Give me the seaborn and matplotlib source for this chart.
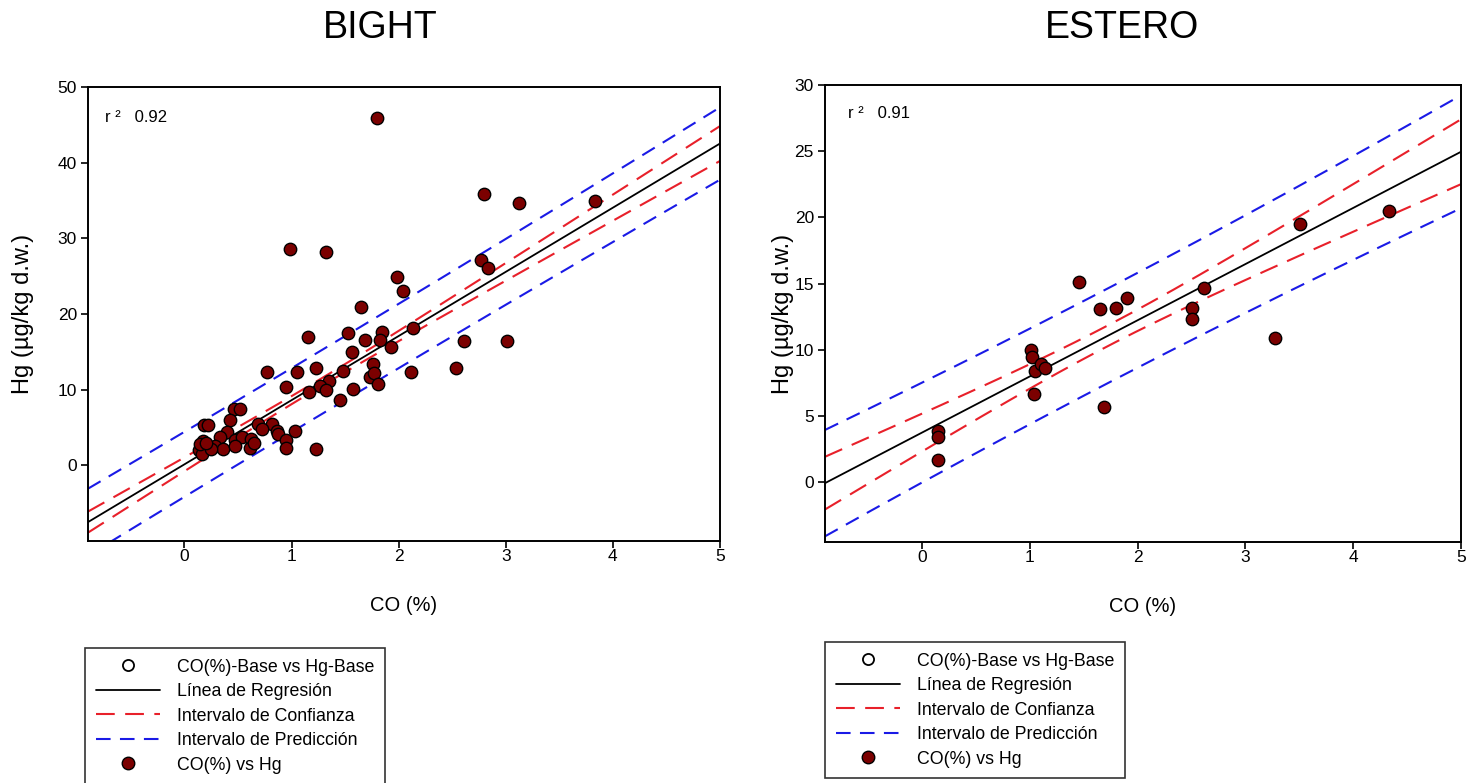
import math
import numpy as np
import pandas as pd
import matplotlib
matplotlib.use("Agg")
import matplotlib.pyplot as plt
from matplotlib.lines import Line2D
import seaborn as sns

# ---------------- data ----------------
bight_co = [1.80, 0.99, 1.32, 1.98, 2.04, 1.65, 1.15, 1.53, 1.84, 1.69, 1.83, 1.93,
            1.56, 1.76, 1.23, 0.77, 1.05, 1.48, 1.73, 1.77, 1.81, 1.35, 1.27, 1.32,
            1.57, 0.95, 1.16, 1.45, 0.46, 0.52, 0.43, 0.18, 0.22, 0.69, 0.82, 0.72,
            0.86, 1.03, 0.87, 0.40, 0.33, 0.47, 0.54, 0.62, 0.95, 0.17, 0.29, 0.36,
            0.47, 0.61, 0.65, 0.95, 1.23, 0.14, 0.16, 0.25, 0.15, 0.20,
            2.80, 3.12, 3.83, 2.77, 2.83, 2.13, 2.61, 3.01, 2.12, 2.54]
bight_hg = [45.9, 28.6, 28.2, 24.9, 23.1, 20.9, 16.9, 17.5, 17.6, 16.6, 16.5, 15.7,
            15.0, 13.4, 12.9, 12.3, 12.3, 12.5, 11.7, 12.2, 10.7, 11.1, 10.5, 10.0,
            10.1, 10.4, 9.7, 8.6, 7.5, 7.4, 6.0, 5.3, 5.3, 5.4, 5.5, 4.8,
            4.6, 4.6, 4.2, 4.4, 3.7, 3.4, 3.8, 3.5, 3.4, 3.2, 2.5, 2.1,
            2.6, 2.3, 2.9, 2.3, 2.2, 2.0, 1.5, 2.1, 2.8, 3.0,
            35.9, 34.7, 35.0, 27.1, 26.1, 18.2, 16.4, 16.4, 12.3, 12.8]

estero_co = [0.15, 0.15, 0.15, 1.01, 1.02, 1.05, 1.10, 1.14, 1.04, 1.46,
             1.65, 1.80, 1.90, 1.69, 2.50, 2.50, 2.62, 3.27, 3.51, 4.33]
estero_hg = [3.9, 3.4, 1.7, 10.0, 9.5, 8.4, 8.9, 8.6, 6.7, 15.1,
             13.1, 13.2, 13.9, 5.7, 13.2, 12.3, 14.7, 10.9, 19.5, 20.5]

# regression of the "Base" series: intercept, slope, residual SD
bight_fit = [0.13, 8.48, 2.10]
estero_fit = [3.76, 4.24, 1.66]

titles = ["BIGHT", "ESTERO"]
r2_labels = ["0.92", "0.91"]
bight_yticks = [0, 10, 20, 30, 40, 50]
estero_yticks = [0, 5, 10, 15, 20, 25, 30]
xticks = [0, 1, 2, 3, 4, 5]
legend_labels = ["CO(%)-Base vs Hg-Base", "Línea de Regresión",
                 "Intervalo de Confianza", "Intervalo de Predicción", "CO(%) vs Hg"]

# ---------------- helpers ----------------
def t_ppf975(df):
    grid = np.linspace(0, 12, 200001)
    c = math.exp(math.lgamma((df + 1) / 2) - math.lgamma(df / 2)) / math.sqrt(df * math.pi)
    pdf = c * (1 + grid ** 2 / df) ** (-(df + 1) / 2)
    cdf = 0.5 + np.concatenate([[0], np.cumsum((pdf[1:] + pdf[:-1]) / 2 * np.diff(grid))])
    return float(np.interp(0.975, cdf, grid))

def bands(x, fit, xg):
    x = np.asarray(x); n = len(x)
    a, b, s = fit
    sxx = np.sum((x - x.mean()) ** 2)
    t = t_ppf975(n - 2)
    yh = a + b * xg
    se = s * np.sqrt(1 / n + (xg - x.mean()) ** 2 / sxx)
    sp = s * np.sqrt(1 + 1 / n + (xg - x.mean()) ** 2 / sxx)
    return yh, yh - t * se, yh + t * se, yh - t * sp, yh + t * sp

# ---------------- figure ----------------
sns.set_theme(style="white")
plt.rcParams['font.family'] = ['Liberation Sans', 'DejaVu Sans']
plt.rcParams.update({"text.color": "black", "axes.labelcolor": "black",
                     "xtick.color": "black", "ytick.color": "black"})

W, H = 1476, 783
fig = plt.figure(figsize=(W / 100, H / 100), dpi=100)

axes_px = [(88, 87, 720, 541), (825, 85, 1461, 542)]
ylims = [(-10, 50), (-4.5, 30)]
yticks_all = [bight_yticks, estero_yticks]
datasets = [(bight_co, bight_hg, bight_fit), (estero_co, estero_hg, estero_fit)]
title_x = [380, 1122]
r2_pos = [(105, 118), (848, 113)]
legend_pos = [(85, 648), (825, 642)]
ylabel_pad = [17, 0]

red_dash = (9, 5)
blue_dash = (7, 4.5)
pt_color = "#7b0000"
red = "#e8202a"
blue = "#1a1ae6"

for i in range(2):
    l, t, r, b = axes_px[i]
    ax = fig.add_axes([l / W, 1 - b / H, (r - l) / W, (b - t) / H])
    co, hg, fit = datasets[i]
    df = pd.DataFrame({"CO": co, "Hg": hg})
    xg = np.linspace(-0.9, 5.0, 200)
    yh, cl, cu, pl, pu = bands(co, fit, xg)

    ax.plot(xg, pl, color=blue, lw=1.5, dashes=blue_dash, zorder=2)
    ax.plot(xg, pu, color=blue, lw=1.5, dashes=blue_dash, zorder=2)
    ax.plot(xg, cl, color=red, lw=1.5, dashes=red_dash, zorder=2)
    ax.plot(xg, cu, color=red, lw=1.5, dashes=red_dash, zorder=2)
    ax.plot(xg, yh, color="black", lw=1.3, zorder=3)

    sns.scatterplot(data=df, x="CO", y="Hg", ax=ax, s=80, color=pt_color,
                    edgecolor="black", linewidth=1.0, zorder=4, legend=False)

    ax.set_xlim(-0.9, 5.0)
    ax.set_ylim(*ylims[i])
    ax.set_xticks(xticks)
    ax.set_yticks(yticks_all[i])
    ax.tick_params(axis="both", direction="out", length=5, width=1.2,
                   labelsize=12.5, bottom=True, left=True)
    ax.tick_params(axis="x", pad=1)
    ax.tick_params(axis="y", pad=3)
    for sp in ax.spines.values():
        sp.set_visible(True)
        sp.set_color("black")
        sp.set_linewidth(1.4)
    ax.set_xlabel("CO (%)", fontsize=14.5, labelpad=23)
    ax.set_ylabel("Hg (µg/kg d.w.)", fontsize=17, labelpad=ylabel_pad[i])
    ax.grid(False)

    fig.text(title_x[i] / W, 1 - 28 / H, titles[i], fontsize=27, ha="center", va="center")
    fig.text(r2_pos[i][0] / W, 1 - r2_pos[i][1] / H, "r ²   " + r2_labels[i],
             fontsize=12, ha="left", va="center")

    handles = [
        Line2D([], [], ls="none", marker="o", markersize=8, markerfacecolor="white",
               markeredgecolor="black", markeredgewidth=1.3),
        Line2D([], [], color="black", lw=1.3),
        Line2D([], [], color=red, lw=1.5, dashes=red_dash),
        Line2D([], [], color=blue, lw=1.5, dashes=blue_dash),
        Line2D([], [], ls="none", marker="o", markersize=9, markerfacecolor=pt_color,
               markeredgecolor="black", markeredgewidth=1.0),
    ]
    lx, ly = legend_pos[i]
    leg = fig.legend(handles, legend_labels, loc="upper left",
                     bbox_to_anchor=(lx / W, 1 - ly / H), frameon=True,
                     fontsize=12.8, handlelength=3.6, labelspacing=0.42,
                     borderpad=0.6, handletextpad=1.0, borderaxespad=0,
                     fancybox=False)
    leg.get_frame().set_edgecolor("black")
    leg.get_frame().set_linewidth(1.2)

fig.savefig("out.png", dpi=100)
